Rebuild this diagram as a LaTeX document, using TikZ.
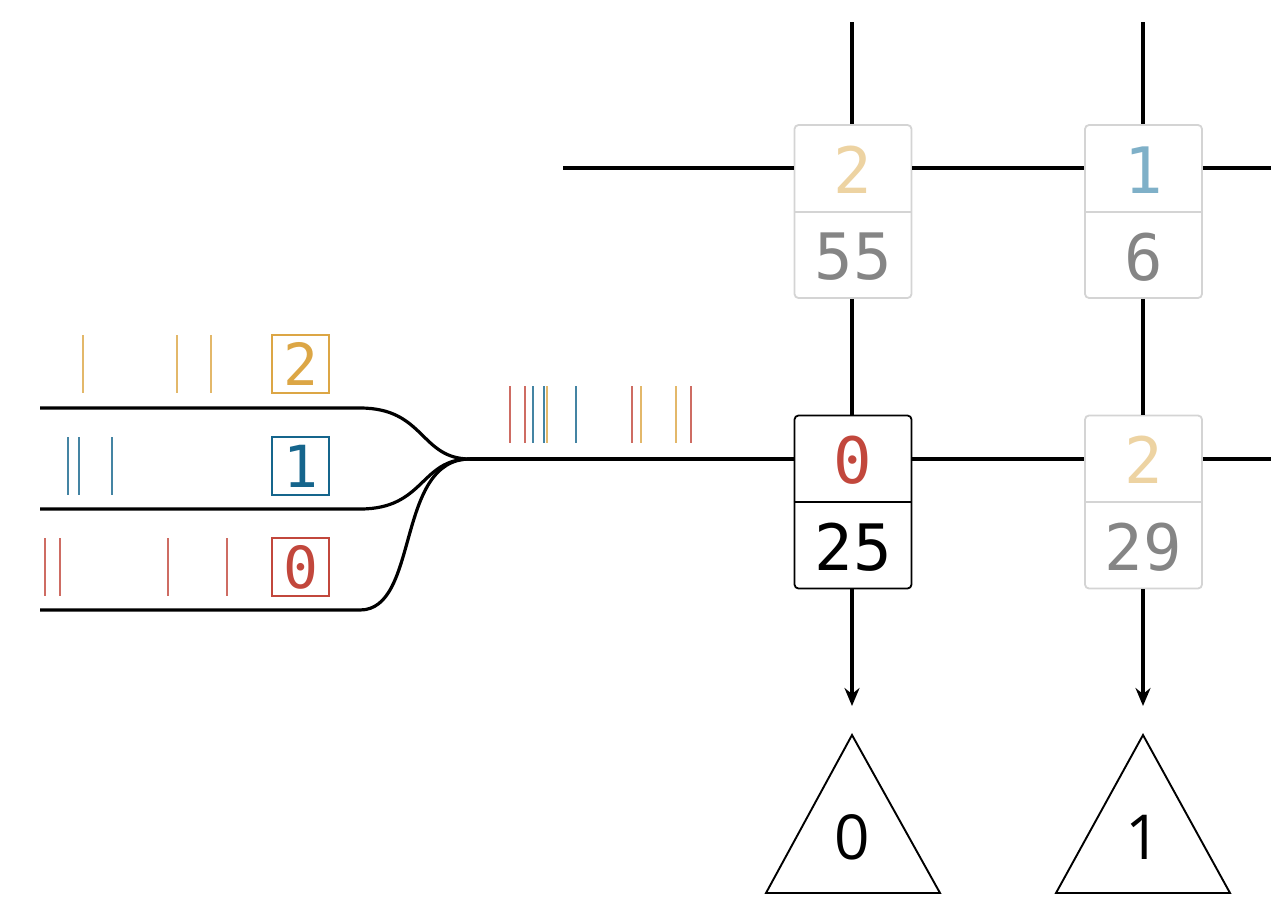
\documentclass[tikz,border=0pt]{standalone}
\usepackage{fontspec}
\setmainfont{Open Sans}
\newfontfamily\monof{DejaVu Sans Mono}
\usetikzlibrary{arrows.meta}
\definecolor{cOr}{HTML}{DCA645}
\definecolor{cBl}{HTML}{15658C}
\definecolor{cRd}{HTML}{C2473C}
\definecolor{cOrL}{HTML}{EDD3A2}
\definecolor{cBlL}{HTML}{7FB0C8}
\definecolor{cGrT}{HTML}{858585}
\definecolor{cGrB}{HTML}{D4D4D4}
\begin{document}
\begin{tikzpicture}[x=1pt,y=-1pt,
  wire/.style={line width=3.2pt,black},
  cellbox/.style={draw=#1,line width=1.8pt,rounded corners=4pt,minimum width=117pt,minimum height=173pt,inner sep=0pt,fill=white},
  celltxt/.style={font=\monof\fontsize{64}{70}\selectfont,text=#1,inner sep=0pt},
  keybox/.style={draw=#1,line width=1.6pt,minimum width=57pt,minimum height=58pt,inner sep=0pt,text=#1,font=\monof\fontsize{58}{62}\selectfont},
  tickmark/.style={draw=#1,line width=2.2pt,opacity=0.8},
  trig/.style={draw,line width=1.9pt,line join=miter},
  triglbl/.style={font=\fontsize{62}{66}\selectfont,inner sep=0pt}]
\useasboundingbox (0,0) rectangle (1271,900);

% cells
\node[cellbox=cGrB] (c1) at (853,211.5) {};
\node[cellbox=cGrB] (c2) at (1143.5,211.5) {};
\node[cellbox=black] (c3) at (853,502) {};
\node[cellbox=cGrB] (c4) at (1143.5,502) {};
\draw[cGrB,line width=1.8pt] (c1.west |- 0,212) -- (c1.east |- 0,212);
\draw[cGrB,line width=1.8pt] (c2.west |- 0,212) -- (c2.east |- 0,212);
\draw[black,line width=1.8pt] (c3.west |- 0,502) -- (c3.east |- 0,502);
\draw[cGrB,line width=1.8pt] (c4.west |- 0,502) -- (c4.east |- 0,502);
\node[celltxt=cOrL] (c1a) at (853,170) {2};
\node[celltxt=cGrT] (c1b) at (853,257) {55};
\node[celltxt=cBlL] (c2a) at (1143.5,170) {1};
\node[celltxt=cGrT] (c2b) at (1143.5,257) {6};
\node[celltxt=cRd] (c3a) at (853,460) {0};
\node[celltxt=black] (c3b) at (853,547) {25};
\node[celltxt=cOrL] (c4a) at (1143.5,460) {2};
\node[celltxt=cGrT] (c4b) at (1143.5,547) {29};

% grid coordinates
\coordinate (t1) at (852,22);
\coordinate (t2) at (1143,22);
\coordinate (l1) at (563,168);
\coordinate (r1) at (1271,168);
\coordinate (r2) at (1271,459);
\coordinate (m) at (470,459);
\coordinate (a1) at (852,706);
\coordinate (a2) at (1143,706);

\draw[wire] (t1) -- (c1.north -| t1);
\draw[wire] (t2) -- (c2.north -| t2);
\draw[wire] (c1.south -| t1) -- (c3.north -| t1);
\draw[wire] (c2.south -| t2) -- (c4.north -| t2);
\draw[wire] (l1) -- (c1.west |- l1);
\draw[wire] (c1.east |- l1) -- (c2.west |- l1);
\draw[wire] (c2.east |- r1) -- (r1);
\draw[wire] (m) -- (c3.west |- m);
\draw[wire] (c3.east |- m) -- (c4.west |- m);
\draw[wire] (c4.east |- r2) -- (r2);
\draw[wire,-{Stealth[length=18pt,width=15pt,inset=6pt]}] (c3.south -| a1) -- (a1);
\draw[wire,-{Stealth[length=18pt,width=15pt,inset=6pt]}] (c4.south -| a2) -- (a2);

% input streams
\coordinate (s2) at (40,408);
\coordinate (s1) at (40,509);
\coordinate (s0) at (40,610);
\draw[wire] (s2) -- (360,408) .. controls (425,408) and (420,459) .. (m);
\draw[wire] (s1) -- (360,509) .. controls (425,509) and (420,459) .. (m);
\draw[wire] (s0) -- (360,610) .. controls (420,610) and (395,459) .. (m);

\node[keybox=cOr] (k2) at (300.5,364) {2};
\node[keybox=cBl] (k1) at (300.5,466) {1};
\node[keybox=cRd] (k0) at (300.5,567) {0};

\foreach \x in {83,177,211} \draw[tickmark=cOr] (\x,335) -- (\x,393);
\foreach \x in {68,79,112} \draw[tickmark=cBl] (\x,437) -- (\x,495);
\foreach \x in {45,60,168,227} \draw[tickmark=cRd] (\x,538) -- (\x,596);

\foreach \x in {510,525,632,691} \draw[tickmark=cRd] (\x,386) -- (\x,443);
\foreach \x in {533,544,576} \draw[tickmark=cBl] (\x,386) -- (\x,443);
\foreach \x in {547,641,676} \draw[tickmark=cOr] (\x,386) -- (\x,443);

% triangles
\draw[trig] (852,735) -- (940,893) -- (766,893) -- cycle;
\draw[trig] (1143,735) -- (1230,893) -- (1056,893) -- cycle;
\node[triglbl] (tr0) at (852,837) {0};
\node[triglbl] (tr1) at (1143,837) {1};
\end{tikzpicture}
\end{document}
